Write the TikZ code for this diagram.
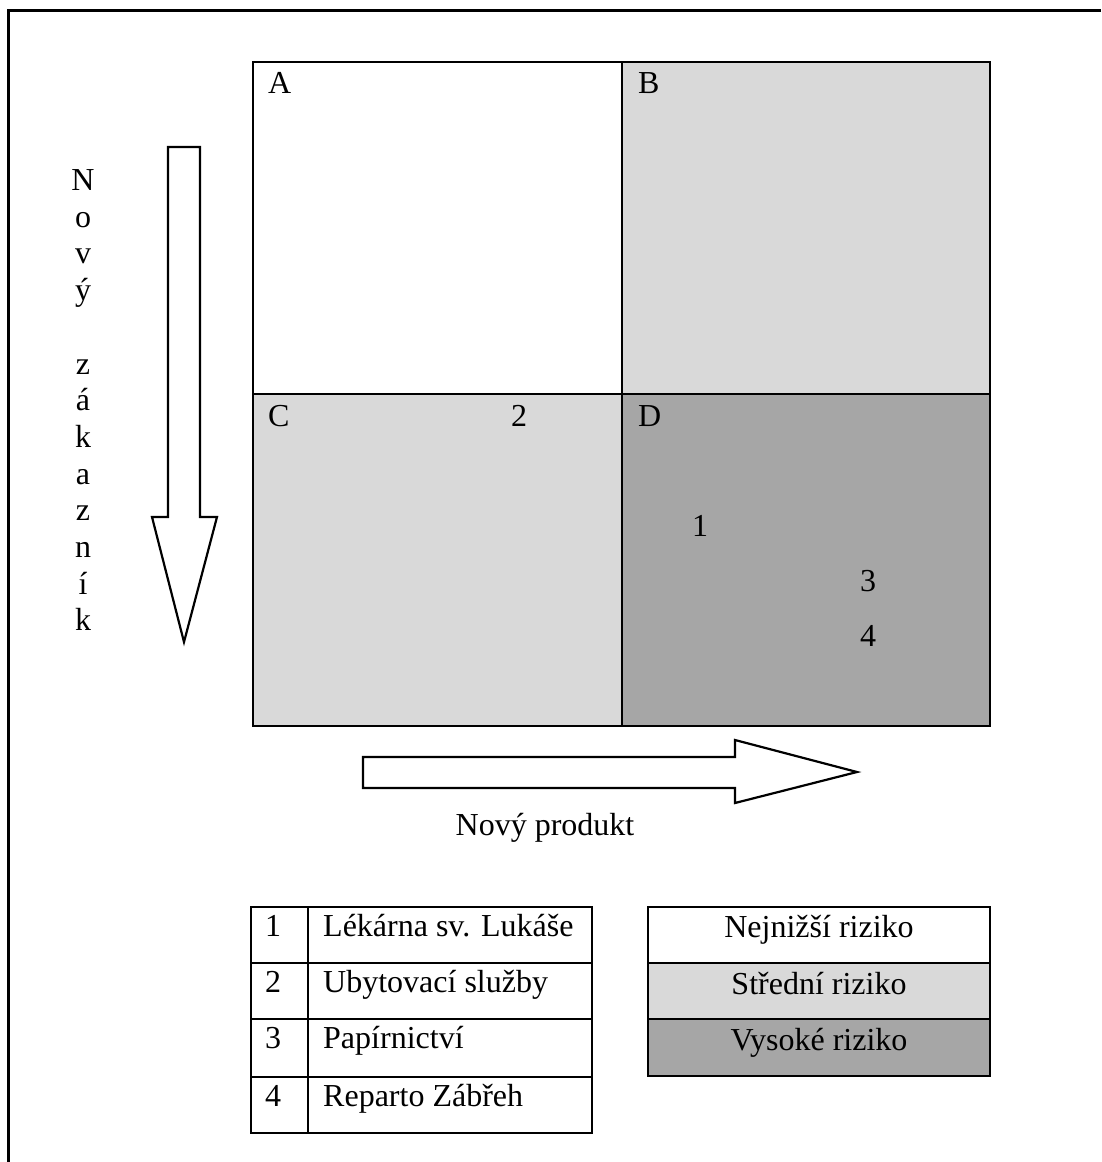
\documentclass[tikz,border=0pt]{standalone}
\usepackage{fontspec}
\setmainfont{Liberation Serif}
\usetikzlibrary{positioning}
\definecolor{midgrey}{HTML}{D9D9D9}
\definecolor{darkgrey}{HTML}{A6A6A6}
\tikzset{
  txt/.style={inner sep=0pt, font=\fontsize{32}{37}\selectfont},
  gridline/.style={draw=black, line width=2.6pt},
  tabline/.style={draw=black, line width=2.4pt},
  blockarrow/.style={draw=black, fill=white, line width=2.2pt, line join=miter},
}

\begin{document}
\begin{tikzpicture}[x=1pt,y=-1pt]
\useasboundingbox (0,0) rectangle (1101,1162);

\newcommand\GridL{253}
\newcommand\GridM{622}
\newcommand\GridR{990}
\newcommand\GridT{62}
\newcommand\GridC{394}
\newcommand\GridB{726}

  %% frame (only top and left visible)
  \draw[line width=3pt] (1101,10) -- (8,10) -- (8,1162);

  %% the four quadrants
  \fill[midgrey] (\GridM,\GridT) rectangle (\GridR,\GridC);
  \fill[midgrey] (\GridL,\GridC) rectangle (\GridM,\GridB);
  \fill[darkgrey] (\GridM,\GridC) rectangle (\GridR,\GridB);
  \draw[gridline] (\GridL,\GridT) rectangle (\GridR,\GridB);
  \draw[gridline] (\GridM,\GridT) -- (\GridM,\GridB);
  \draw[gridline] (\GridL,\GridC) -- (\GridR,\GridC);

  \node[txt, anchor=base west] (qA) at (268,93) {A};
  \node[txt, anchor=base west] (qB) at (638,93) {B};
  \node[txt, anchor=base west] (qC) at (268,426) {C};
  \node[txt, anchor=base west] (qD) at (638,426) {D};

  \node[txt, anchor=base] (firm2) at (519,426) {2};
  \node[txt, anchor=base] (firm1) at (700,536) {1};
  \node[txt, anchor=base] (firm3) at (868,591) {3};
  \node[txt, anchor=base] (firm4) at (868,646) {4};

  %% vertical arrow + letters
  \draw[blockarrow] (168,147) -- (200,147) -- (200,517) -- (217,517)
    -- (184,642) -- (152,517) -- (168,517) -- cycle;
  \foreach \ch [count=\i from 0] in {N,o,v,ý,{},z,á,k,a,z,n,í,k}
    \node[txt, anchor=base] (zak\i) at (83,190.5+36.7*\i) {\ch};

  %% horizontal arrow
  \draw[blockarrow] (363,757) -- (735,757) -- (735,740) -- (857,772)
    -- (735,803) -- (735,788) -- (363,788) -- cycle;
  \node[txt, anchor=base] (produkt) at (545,835) {Nový produkt};

  %% legend of firms
  \draw[tabline] (251,907) rectangle (592,1133);
  \draw[tabline] (308,907) -- (308,1133);
  \draw[tabline] (251,963) -- (592,963);
  \draw[tabline] (251,1019) -- (592,1019);
  \draw[tabline] (251,1077) -- (592,1077);

  \node[txt, anchor=base west] (n1) at (265,936) {1};
  \node[txt, anchor=base west] (n2) at (265,992) {2};
  \node[txt, anchor=base west] (n3) at (265,1048) {3};
  \node[txt, anchor=base west] (n4) at (265,1106) {4};
  \node[txt, anchor=base west] (f1) at (323,936) {Lékárna sv. Lukáše};
  \node[txt, anchor=base west] (f2) at (323,992) {Ubytovací služby};
  \node[txt, anchor=base west] (f3) at (323,1048) {Papírnictví};
  \node[txt, anchor=base west] (f4) at (323,1106) {Reparto Zábřeh};

  %% legend of risks
  \fill[midgrey] (648,963) rectangle (990,1019);
  \fill[darkgrey] (648,1019) rectangle (990,1076);
  \draw[tabline] (648,907) rectangle (990,1076);
  \draw[tabline] (648,963) -- (990,963);
  \draw[tabline] (648,1019) -- (990,1019);

  \node[txt, anchor=base] (low) at (819,937) {Nejnižší riziko};
  \node[txt, anchor=base] (mid) at (819,994) {Střední riziko};
  \node[txt, anchor=base] (high) at (819,1050) {Vysoké riziko};

\end{tikzpicture}
\end{document}
